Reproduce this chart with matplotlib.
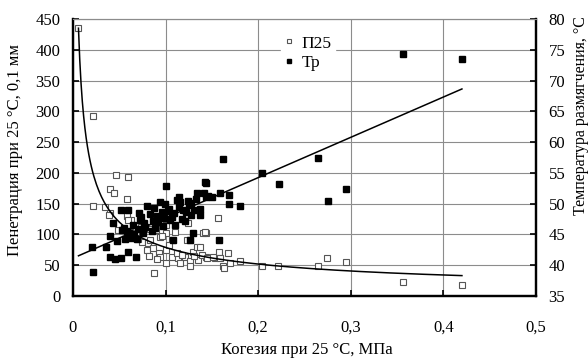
import matplotlib
matplotlib.use("Agg")
import matplotlib.pyplot as plt
import numpy as np

plt.rcParams['font.family'] = ['Liberation Serif', 'DejaVu Serif']
plt.rcParams['font.size'] = 12

# П25 — пенетрация (левая ось)
p_x = [0.005, 0.022, 0.047, 0.059, 0.040, 0.044, 0.058, 0.022, 0.035, 0.040,
       0.058, 0.063, 0.039, 0.059, 0.049, 0.062, 0.074, 0.083, 0.090, 0.094,
       0.101, 0.110, 0.075, 0.081, 0.080, 0.082, 0.093, 0.094, 0.101, 0.101,
       0.107, 0.113, 0.116, 0.121, 0.126, 0.126, 0.130, 0.134, 0.135, 0.144,
       0.153, 0.158, 0.162, 0.167, 0.180, 0.088, 0.157, 0.144, 0.123, 0.094,
       0.100, 0.124, 0.126, 0.083, 0.096, 0.107, 0.140, 0.143, 0.137, 0.139,
       0.145, 0.151, 0.159, 0.163, 0.170, 0.204, 0.221, 0.265, 0.274, 0.295,
       0.356, 0.420, 0.068, 0.070, 0.086, 0.112, 0.118, 0.104, 0.091, 0.131]
p_y = [435, 292, 196, 194, 174, 167, 158, 146, 145, 134,
       130, 123, 132, 123, 107, 104, 112, 109, 107, 96,
       102, 104, 88, 86, 74, 65, 70, 64, 75, 53,
       64, 61, 53, 64, 56, 48, 72, 80, 58, 63,
       61, 72, 48, 70, 57, 37, 127, 103, 91, 118,
       115, 118, 91, 91, 97, 91, 103, 104, 80, 67,
       62, 63, 62, 45, 54, 48, 49, 48, 62, 55,
       23, 18, 100, 92, 78, 70, 66, 82, 60, 65]

# Тр — температура размягчения (правая ось)
t_x = [0.022, 0.021, 0.036, 0.040, 0.043, 0.052, 0.059, 0.053, 0.058, 0.040,
       0.045, 0.052, 0.060, 0.068, 0.063, 0.069, 0.072, 0.080, 0.094, 0.101,
       0.096, 0.105, 0.108, 0.110, 0.116, 0.119, 0.121, 0.125, 0.126, 0.130,
       0.134, 0.137, 0.143, 0.144, 0.150, 0.159, 0.162, 0.168, 0.169, 0.180,
       0.158, 0.356, 0.420, 0.265, 0.204, 0.222, 0.295, 0.275, 0.144, 0.142,
       0.146, 0.137, 0.055, 0.061, 0.065, 0.070, 0.074, 0.077, 0.083, 0.086,
       0.088, 0.091, 0.098, 0.099, 0.103, 0.107, 0.112, 0.114, 0.118, 0.122,
       0.128, 0.131, 0.066, 0.078, 0.085, 0.092, 0.097, 0.048, 0.056, 0.071,
       0.076, 0.089, 0.104, 0.109, 0.115, 0.124, 0.127, 0.133]
t_y = [38.9, 42.9, 42.9, 44.8, 46.9, 49.0, 49.0, 45.7, 45.5, 41.3,
       41.0, 41.1, 42.2, 41.3, 44.4, 44.2, 47.3, 49.6, 50.3, 52.9,
       48.7, 47.3, 44.1, 46.5, 50.3, 49.0, 47.1, 49.8, 44.1, 45.3,
       51.7, 49.2, 53.5, 51.1, 51.1, 51.8, 57.2, 51.4, 49.9, 49.6,
       44.1, 74.3, 73.5, 57.4, 54.9, 53.2, 52.4, 50.4, 53.4, 51.8,
       51.2, 48.2, 46.0, 45.2, 46.5, 45.8, 47.8, 46.9, 48.3, 47.2,
       49.3, 48.0, 47.6, 49.9, 48.8, 47.9, 50.6, 49.4, 47.5, 48.6,
       50.1, 48.9, 45.1, 46.2, 45.6, 47.0, 46.3, 44.0, 44.3, 48.4,
       45.3, 46.0, 49.1, 48.4, 51.0, 50.4, 48.1, 50.7]

# линии тренда
pow_a, pow_b = 19.5, -0.607
lin_k, lin_b = 65.5, 41.13
fit_x0, fit_x1 = 0.006, 0.42

x_ticks = [0, 0.1, 0.2, 0.3, 0.4, 0.5]
x_labels = ['0', '0,1', '0,2', '0,3', '0,4', '0,5']

fig = plt.figure(figsize=(5.88, 3.60), dpi=100)
ax = fig.add_axes([0.124, 0.178, 0.7876, 0.769])
ax2 = ax.twinx()

grid_c = '#8c8c8c'
ax.set_xlim(0, 0.5)
ax.set_ylim(0, 450)
ax2.set_ylim(35, 80)
ax.set_xticks(x_ticks)
ax.set_xticklabels(x_labels)
ax.set_yticks(range(0, 451, 50))
ax2.set_yticks(range(35, 81, 5))
ax.grid(True, color=grid_c, lw=0.8)
ax.set_axisbelow(True)

p1, = ax.plot(p_x, p_y, 's', ms=4.3, mfc='white', mec='#555555', mew=0.8,
              label='П25', zorder=3)
p2, = ax2.plot(t_x, t_y, 's', ms=4.3, mfc='black', mec='black', label='Тр',
               zorder=3)

xx = np.linspace(fit_x0, fit_x1, 300)
ax.plot(xx, pow_a * xx ** pow_b, color='black', lw=1.1, zorder=4)
ax2.plot(xx, lin_k * xx + lin_b, color='black', lw=1.1, zorder=4)

for a in (ax, ax2):
    a.spines['top'].set_color(grid_c)
    a.spines['top'].set_linewidth(0.8)
    for s in ('left', 'right', 'bottom'):
        a.spines[s].set_linewidth(1.6)
ax.tick_params(axis='y', direction='in', length=4, width=1.2, pad=9)
ax.tick_params(axis='x', direction='in', length=4, width=1.2, pad=17)
ax2.tick_params(axis='y', direction='in', length=4, width=1.2, pad=9)

ax.set_xlabel('Когезия при 25 °С, МПа')
ax.set_ylabel('Пенетрация при 25 °С, 0,1 мм')
ax2.set_ylabel('Температура размягчения, °С', fontsize=11.5)
ax.xaxis.set_label_coords(0.505, -0.165)
ax.yaxis.set_label_coords(-0.108, 0.527)
ax2.yaxis.set_label_coords(1.079, 0.65)

leg = ax2.legend(handles=[p1, p2], loc='upper left',
                 bbox_to_anchor=(0.43, 0.985), frameon=True, fancybox=False,
                 edgecolor='white', framealpha=1, handlelength=0.6,
                 handletextpad=0.4, borderpad=0.2, labelspacing=0.2,
                 markerscale=0.8, fontsize=12.5)

fig.savefig('out.png', dpi=100)
